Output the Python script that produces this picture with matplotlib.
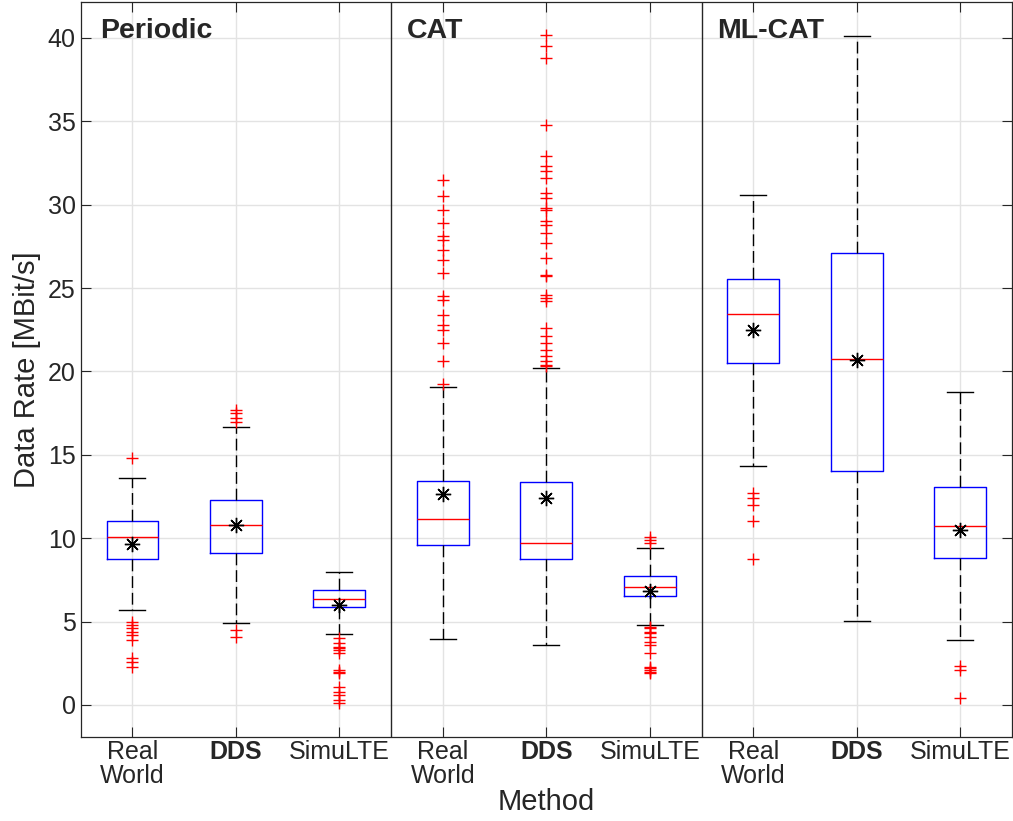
import matplotlib
matplotlib.use("Agg")
import matplotlib.pyplot as plt

plt.rcParams['font.family'] = ['Liberation Sans', 'DejaVu Sans']

# box statistics (MBit/s)
groups = ["Periodic", "CAT", "ML-CAT"]
methods = ["Real\nWorld", "DDS", "SimuLTE"]
q1 = [8.74, 9.13, 5.86, 9.58, 8.76, 6.54, 20.53, 14.05, 8.84]
medians = [10.07, 10.77, 6.33, 11.17, 9.74, 7.10, 23.43, 20.75, 10.75]
q3 = [11.02, 12.27, 6.92, 13.45, 13.35, 7.72, 25.57, 27.08, 13.09]
whis_lo = [5.70, 4.94, 4.28, 3.94, 3.60, 4.78, 14.35, 5.02, 3.90]
whis_hi = [13.60, 16.65, 7.98, 19.05, 20.19, 9.40, 30.60, 40.14, 18.79]
means = [9.65, 10.80, 6.02, 12.65, 12.39, 6.86, 22.49, 20.70, 10.49]
outliers = [
    [14.83, 4.95, 4.8, 4.6, 4.4, 4.2, 3.9, 2.8, 2.6, 2.3],
    [17.7, 17.5, 17.2, 17.0, 4.5, 4.1],
    [4.0, 3.7, 3.5, 3.4, 3.3, 3.1, 2.1, 2.0, 1.9, 1.1, 0.8, 0.6, 0.3, 0.1],
    [31.5, 30.5, 29.7, 28.9, 28.1, 27.9, 27.3, 26.7, 25.9, 24.5, 24.3,
     23.4, 22.8, 22.5, 21.7, 20.6, 19.25],
    [40.2, 39.5, 38.8, 34.8, 32.9, 32.3, 32.0, 31.6, 30.7, 30.4, 29.8,
     29.7, 29.0, 28.8, 28.3, 27.7, 26.8, 25.8, 25.7, 24.6, 24.4, 24.2,
     22.6, 22.1, 21.7, 21.3, 20.9, 20.6, 20.4, 20.3],
    [10.1, 9.9, 9.7, 4.7, 4.6, 4.4, 4.3, 4.1, 3.8, 3.6, 3.1,
     2.3, 2.2, 2.1, 2.0, 1.9],
    [12.73, 12.39, 12.0, 11.03, 8.74],
    [],
    [2.34, 2.1, 0.4],
]
group_label_x = [0.69, 3.65, 6.65]

text_c = "#262626"

stats = []
for i in range(len(q1)):
    stats.append(dict(q1=q1[i], med=medians[i], q3=q3[i], whislo=whis_lo[i],
                      whishi=whis_hi[i], mean=means[i], fliers=outliers[i]))

fig = plt.figure(figsize=(10.13, 8.21), dpi=100)
ax = fig.add_axes([0.0796, 0.1023, 0.9194, 0.8953])

positions = list(range(1, len(stats) + 1))
ax.bxp(stats, positions=positions, widths=0.5, showmeans=True,
       boxprops=dict(color="blue", linewidth=1.0),
       medianprops=dict(color="red", linewidth=1.0),
       whiskerprops=dict(color="black", linewidth=1.0, linestyle=(0, (8.5, 3.5))),
       capprops=dict(color="black", linewidth=1.0),
       flierprops=dict(marker="+", markeredgecolor="red", markersize=9,
                       markeredgewidth=1.0, linestyle="none"),
       meanprops=dict(marker=(8, 2, 0), markeredgecolor="black", markerfacecolor="black",
                      markersize=11, markeredgewidth=1.0),
       manage_ticks=False)

ax.set_xlim(0.5, 9.5)
ax.set_ylim(-1.92, 42.16)
ax.set_yticks(range(0, 41, 5))
ax.set_xticks(positions)
ax.set_xticklabels(methods * len(groups))
for lab in ax.get_xticklabels():
    lab.set_linespacing(1.0)
    if lab.get_text() == "DDS":
        lab.set_fontweight("bold")

ax.grid(True, color="#e3e3e3", linewidth=1.0)
ax.set_axisbelow(True)
ax.tick_params(direction="in", length=7, width=0.8, colors=text_c,
               labelsize=18, top=True, right=True)
ax.tick_params(axis="x", pad=2)
for s in ax.spines.values():
    s.set_color(text_c)
    s.set_linewidth(0.9)

# group separators and labels
for xs in [3.5, 6.5]:
    ax.axvline(xs, color=text_c, linewidth=1.0)
for gi, g in enumerate(groups):
    ax.text(group_label_x[gi], 40.0, g, fontsize=20.5, fontweight="bold",
            color=text_c, va="baseline", ha="left")

ax.set_ylabel("Data Rate [MBit/s]", fontsize=21, color=text_c, labelpad=5)
ax.set_xlabel("Method", fontsize=21, color=text_c, labelpad=0)

fig.savefig("out.png", dpi=100)
